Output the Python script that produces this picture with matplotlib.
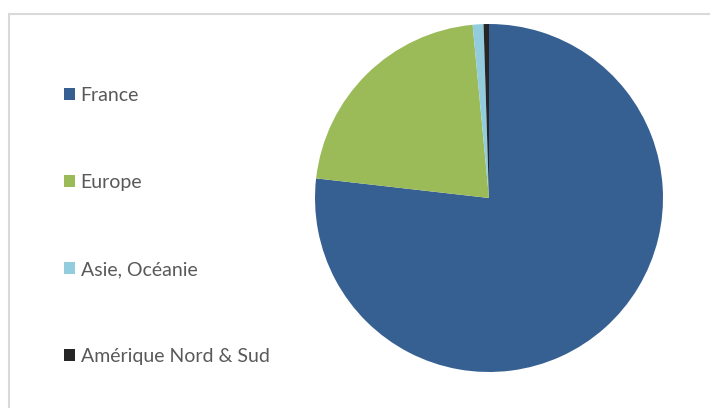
import matplotlib.pyplot as plt
from matplotlib.patches import Rectangle

regions = ['France', 'Europe', 'Asie, Océanie', 'Amérique Nord & Sud']
shares = [76.8, 21.7, 1.0, 0.5]
colors = ['#376092', '#9BBB59', '#93CDDD', '#262626']

plt.rcParams['font.family'] = ['Lato', 'DejaVu Sans']

W, H = 710, 408
fig = plt.figure(figsize=(W / 100, H / 100), dpi=100)

# light grey chart frame running off the right and bottom edges
fig.patches.append(Rectangle((8.5 / W, -0.05), 1.0, 1 - 14 / H + 0.05,
                             transform=fig.transFigure, fill=False,
                             edgecolor='#D9D9D9', linewidth=1.5))

cx, cy, r = 489, 198, 174
ax = fig.add_axes([(cx - r) / W, (H - cy - r) / H, 2 * r / W, 2 * r / H])
wedges, _ = ax.pie(shares, colors=colors, startangle=90, counterclock=False,
                   radius=1, wedgeprops=dict(linewidth=0))
ax.set_xlim(-1, 1)
ax.set_ylim(-1, 1)
ax.set_aspect('equal')
ax.axis('off')

leg = fig.legend(wedges, regions, loc='upper left',
                 bbox_to_anchor=(64 / W, 1 - 87 / H),
                 frameon=False, fontsize=14, handlelength=0.58,
                 handleheight=0.58, handletextpad=0.28, labelspacing=3.6,
                 borderaxespad=0, borderpad=0)
for t in leg.get_texts():
    t.set_color('#595959')

fig.savefig('out.png', dpi=100)
